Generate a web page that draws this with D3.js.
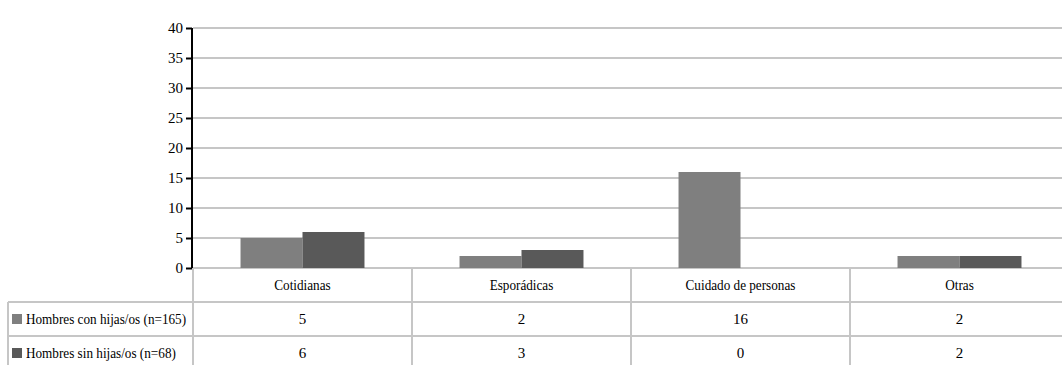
<!DOCTYPE html>
<html><head><meta charset="utf-8">
<script src="https://cdn.jsdelivr.net/npm/d3@7"></script>
<style>body{margin:0;background:#fff}svg{display:block}</style>
</head><body><svg id="c" width="1062" height="365"></svg>
<script>
const categories = ["Cotidianas","Esporádicas","Cuidado de personas","Otras"];
const seriesNames = ["Hombres con hijas/os (n=165)","Hombres sin hijas/os (n=68)"];
const conHijos = [5,2,16,2];
const sinHijos = [6,3,0,2];
const yTicks = [0,5,10,15,20,25,30,35,40];
const colors = ["#7f7f7f","#595959"];
const seriesValues = [conHijos, sinHijos];

(function(){
const FONT = "Liberation Serif";
const FS = 15;
const svg = d3.select("#c");
const pL = 193, pR = 1069, pT = 28, pB = 268;
const x = d3.scaleBand().domain(categories).range([pL, pR]).padding(0);
const bw = x.bandwidth();
const x1 = d3.scaleBand().domain(d3.range(seriesNames.length)).range([bw*0.217, bw*0.783]).padding(0);
const y = d3.scaleLinear().domain([0,40]).range([pB, pT]);

svg.append("g").selectAll("line").data(yTicks).join("line")
  .attr("x1", pL).attr("x2", 1062).attr("y1", d=>y(d)).attr("y2", d=>y(d))
  .attr("stroke", "#c6c6c6").attr("stroke-width", 2);

const data = [];
categories.forEach((c,i)=>seriesValues.forEach((s,j)=>data.push({c, j, v:s[i]})));
svg.append("g").selectAll("rect").data(data.filter(d=>d.v>0)).join("rect")
  .attr("x", d=>x(d.c)+x1(d.j)).attr("width", x1.bandwidth())
  .attr("y", d=>y(d.v)).attr("height", d=>y(0)-y(d.v))
  .attr("fill", d=>colors[d.j]);

const ax = svg.append("g").attr("transform", `translate(${pL-1},0)`)
  .call(d3.axisLeft(y).tickValues(yTicks).tickSize(6).tickPadding(3));
ax.attr("font-family", FONT).attr("font-size", FS);
ax.select(".domain").attr("stroke","#000").attr("stroke-width",2).attr("d", `M0,${pT}V${pB}`);
ax.selectAll(".tick line").attr("stroke","#000").attr("stroke-width",2);
ax.selectAll("text").attr("fill","#000");

const rowY = [268, 302, 336, 370];
const tbl = svg.append("g").attr("font-family", FONT).attr("font-size", FS);
const grey = "#c6c6c6";
tbl.append("line").attr("x1", 8).attr("x2", 1062).attr("y1", rowY[1]).attr("y2", rowY[1]).attr("stroke", grey).attr("stroke-width", 2);
tbl.append("line").attr("x1", 8).attr("x2", 1062).attr("y1", rowY[2]).attr("y2", rowY[2]).attr("stroke", grey).attr("stroke-width", 2);
tbl.append("line").attr("x1", 8).attr("x2", 8).attr("y1", rowY[1]).attr("y2", 365).attr("stroke", grey).attr("stroke-width", 2);
tbl.selectAll("line.v").data(categories).join("line").attr("class","v")
  .attr("x1", d=>x(d)).attr("x2", d=>x(d)).attr("y1", rowY[0]).attr("y2", 365)
  .attr("stroke", grey).attr("stroke-width", 2);
const sx = 0.88;
tbl.selectAll("text.h").data(categories).join("text").attr("class","h")
  .attr("x", d=>x(d)+bw/2).attr("y", (rowY[0]+rowY[1])/2+5).attr("text-anchor","middle")
  .attr("transform", d=>`translate(${(x(d)+bw/2)*(1-sx)},0) scale(${sx},1)`)
  .text(d=>d);
seriesNames.forEach((name,j)=>{
  const cy = (rowY[j+1]+rowY[j+2])/2;
  tbl.append("rect").attr("x", 12).attr("y", cy-5).attr("width", 10).attr("height", 10).attr("fill", colors[j]);
  tbl.append("text").attr("x", 26).attr("y", cy+5).attr("transform", `translate(${26*(1-sx)},0) scale(${sx},1)`).text(name);
  tbl.selectAll("text.r"+j).data(categories).join("text").attr("class","r"+j)
    .attr("x", d=>x(d)+bw/2).attr("y", cy+5).attr("text-anchor","middle")
    .text((d,i)=>seriesValues[j][i]);
});
})();
</script></body></html>
